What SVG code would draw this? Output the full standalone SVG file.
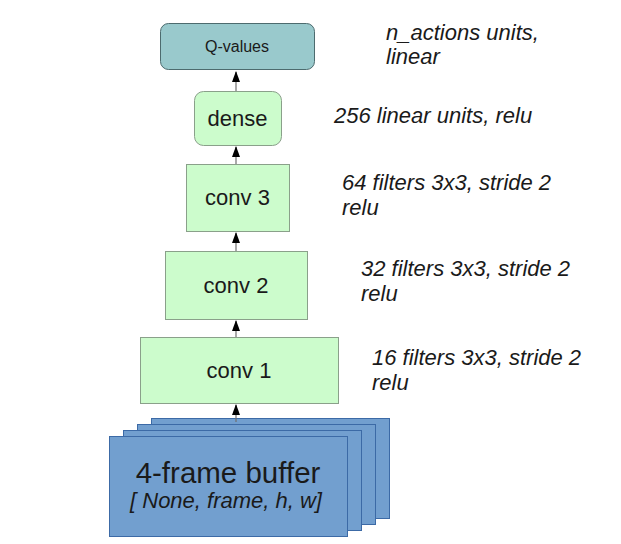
<svg xmlns="http://www.w3.org/2000/svg" width="621" height="544" viewBox="0 0 621 544">
<defs>
<marker id="ah" markerWidth="11" markerHeight="8" refX="10" refY="4" orient="auto" markerUnits="userSpaceOnUse" viewBox="0 0 11 8">
<path d="M0,0 L11,4 L0,8 Z" fill="#000"/>
</marker>
</defs>
<style>
.lbl{font-family:"Liberation Sans",Arial,sans-serif;fill:#1a1a1a;text-anchor:middle}
.note{font-family:"Liberation Sans",Arial,sans-serif;font-style:italic;font-size:22px;fill:#1a1a1a}
.green{fill:#ccfccc;stroke:#8aa08a;stroke-width:1}
.teal{fill:#99c9cc;stroke:#4d6b6e;stroke-width:1}
.frame{fill:#729fcf;stroke:#3c6aa6;stroke-width:1}
.conn{stroke:#707070;stroke-width:1.2;fill:none}
</style>
<rect width="621" height="544" fill="#fff"/>
<g id="qvalues">
<rect class="teal" x="160.5" y="23.5" width="154" height="46" rx="8"/>
<text class="lbl" x="237" y="52" font-size="16">Q-values</text>
</g>
<g id="dense">
<rect class="green" x="194.5" y="91.5" width="87" height="54" rx="9"/>
<text class="lbl" x="237.5" y="126" font-size="22">dense</text>
</g>
<g id="conv3">
<rect class="green" x="186.5" y="164.5" width="103" height="67"/>
<text class="lbl" x="237.5" y="205" font-size="22">conv 3</text>
</g>
<g id="conv2">
<rect class="green" x="165.5" y="251.5" width="142" height="68"/>
<text class="lbl" x="236" y="293" font-size="22">conv 2</text>
</g>
<g id="conv1">
<rect class="green" x="140.5" y="337.5" width="198" height="66"/>
<text class="lbl" x="239" y="378" font-size="22">conv 1</text>
</g>
<g id="buffer">
<rect class="frame" x="151.5" y="418.5" width="238" height="100"/>
<rect class="frame" x="137.5" y="424.5" width="238" height="100"/>
<rect class="frame" x="123.5" y="430.5" width="238" height="100"/>
<rect class="frame" x="109.5" y="436.5" width="238" height="100"/>
<text class="lbl" x="228" y="483" font-size="29.5">4-frame buffer</text>
<text class="lbl" x="226" y="508" font-size="22" font-style="italic">[ None, frame, h, w]</text>
</g>
<g id="connectors">
<line class="conn" x1="236" y1="91" x2="236" y2="72" marker-end="url(#ah)"/>
<line class="conn" x1="236" y1="164" x2="236" y2="147" marker-end="url(#ah)"/>
<line class="conn" x1="236" y1="251" x2="236" y2="233" marker-end="url(#ah)"/>
<line class="conn" x1="236" y1="337" x2="236" y2="321" marker-end="url(#ah)"/>
<line class="conn" x1="236" y1="422" x2="236" y2="405" marker-end="url(#ah)"/>
</g>
<g id="notes">
<text class="note" x="386" y="40">n_actions units,</text>
<text class="note" x="386" y="64">linear</text>
<text class="note" x="334" y="123">256 linear units, relu</text>
<text class="note" x="342" y="190">64 filters 3x3, stride 2</text>
<text class="note" x="342" y="215">relu</text>
<text class="note" x="361" y="276">32 filters 3x3, stride 2</text>
<text class="note" x="361" y="301">relu</text>
<text class="note" x="372" y="365">16 filters 3x3, stride 2</text>
<text class="note" x="372" y="390">relu</text>
</g>
</svg>
